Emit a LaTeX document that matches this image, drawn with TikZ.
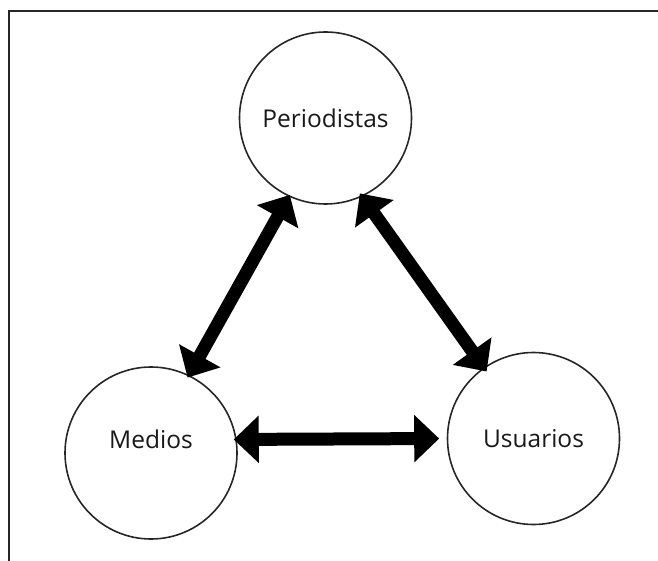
\documentclass[tikz,border=0pt]{standalone}
\usepackage{fontspec}
\setmainfont{Open Sans}
\usetikzlibrary{arrows.meta}
\begin{document}
\begin{tikzpicture}[x=1pt,y=-1pt,
	actor/.style={circle,draw=black!85,line width=1.6pt,minimum size=172pt,inner sep=0pt},
	lbl/.style={font=\fontsize{24.5}{28}\selectfont,text=black!90},
	link/.style={line width=13pt,{Triangle[length=25pt,width=46pt]}-{Triangle[length=25pt,width=46pt]}}]
	\useasboundingbox (0,0) rectangle (658,561);
	\draw[line width=2pt,black!85] (8.5,561) -- (8.5,11) -- (658,11);
	\node[actor] (per) at (325.5,118) {};
	\node[actor] (med) at (151,453) {};
	\node[actor] (usu) at (533.5,438.5) {};
	\node[lbl] (perlbl) at (per) {Periodistas};
	\node[lbl] (medlbl) at ([yshift=14pt]med.center) {Medios};
	\node[lbl] (usulbl) at (usu) {Usuarios};
	\draw[link,shorten <=-3pt,shorten >=-2pt] (med.64) -- (per.245);
	\draw[link,shorten <=-4pt,shorten >=-5pt] (per.-65) -- (usu.125);
	\draw[link,shorten <=-3pt,shorten >=7.5pt] (med.9.4) -- (usu.180);
\end{tikzpicture}
\end{document}
